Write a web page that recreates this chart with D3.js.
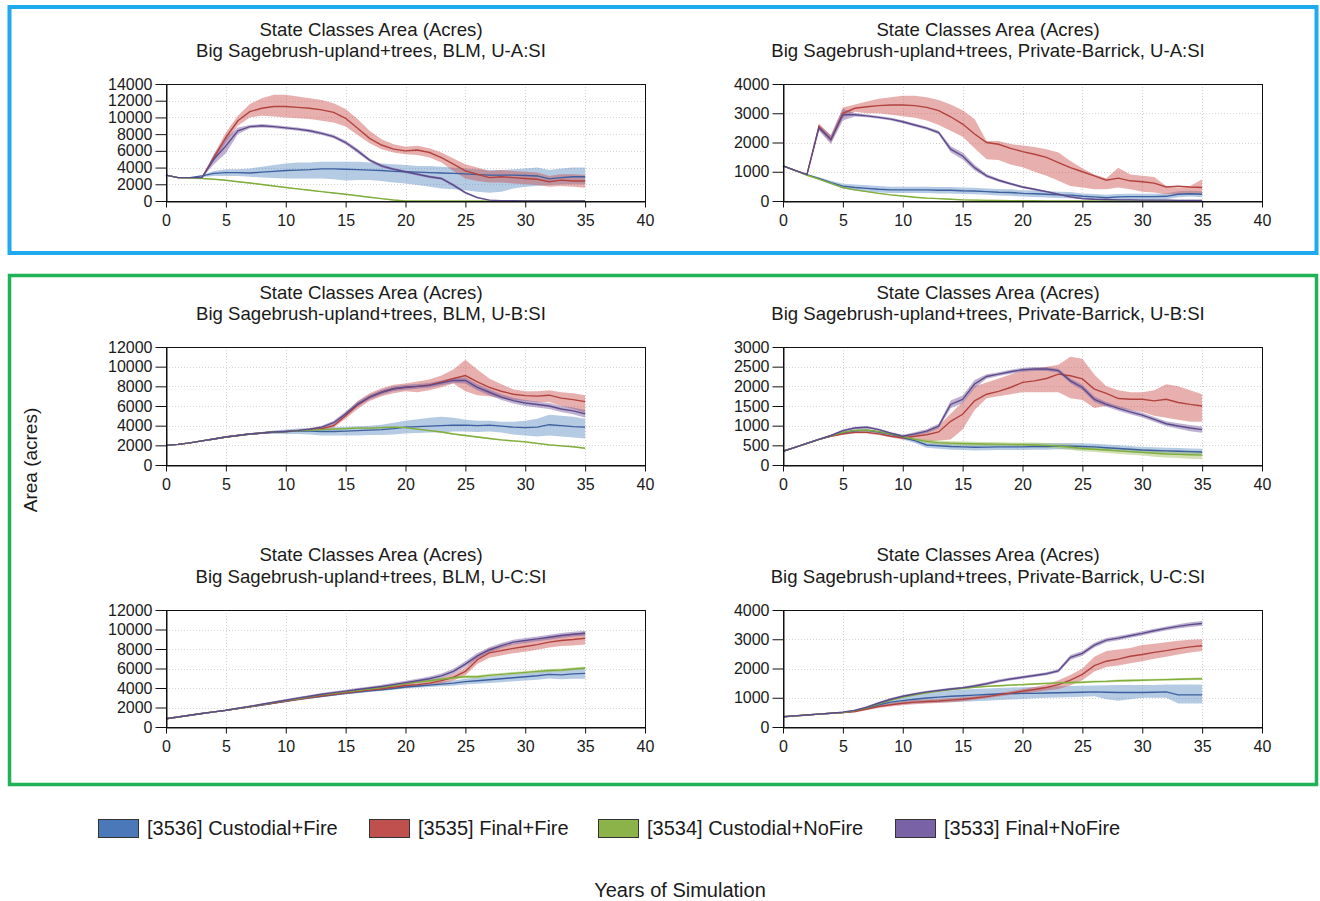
<!DOCTYPE html>
<html>
<head>
<meta charset="utf-8">
<script src="https://cdn.jsdelivr.net/npm/d3@7"></script>
<style>
  html, body { margin: 0; padding: 0; background: #fff; }
  svg { display: block; font-family: "Liberation Sans", Arial, sans-serif; }
</style>
</head>
<body>
<svg id="chart" width="1320" height="901"></svg>
<script>
// ---------------- DATA ----------------
const years = [0,1,2,3,4,5,6,7,8,9,10,11,12,13,14,15,16,17,18,19,20,21,22,23,24,25,26,27,28,29,30,31,32,33,34,35];
const xTicks = [0,5,10,15,20,25,30,35,40];
const seriesNames = ["[3536] Custodial+Fire","[3535] Final+Fire","[3534] Custodial+NoFire","[3533] Final+NoFire"];
const titleLine1 = "State Classes Area (Acres)";
const panelTitles = [
  "Big Sagebrush-upland+trees, BLM, U-A:SI",
  "Big Sagebrush-upland+trees, Private-Barrick, U-A:SI",
  "Big Sagebrush-upland+trees, BLM, U-B:SI",
  "Big Sagebrush-upland+trees, Private-Barrick, U-B:SI",
  "Big Sagebrush-upland+trees, BLM, U-C:SI",
  "Big Sagebrush-upland+trees, Private-Barrick, U-C:SI"
];
const yTicksA_BLM = [0,2000,4000,6000,8000,10000,12000,14000];
const yTicksA_PB  = [0,1000,2000,3000,4000];
const yTicksB_BLM = [0,2000,4000,6000,8000,10000,12000];
const yTicksB_PB  = [0,500,1000,1500,2000,2500,3000];
const yTicksC_BLM = [0,2000,4000,6000,8000,10000,12000];
const yTicksC_PB  = [0,1000,2000,3000,4000];
const xLabel = "Years of Simulation";
const yLabel = "Area (acres)";

// Panel A - BLM
const aBlmCF    = [3100,2800,2800,3000,3300,3400,3400,3350,3450,3550,3650,3700,3750,3850,3850,3800,3750,3700,3650,3550,3500,3450,3400,3350,3300,3250,3150,3100,3100,3100,3050,3000,2650,2800,2900,2900];
const aBlmCF_lo = [3100,2800,2800,2850,3000,3000,3000,2900,2800,2750,2700,2700,2700,2700,2600,2450,2500,2500,2400,2200,2100,1900,1700,1500,1400,1300,1100,1000,1100,1500,1700,1800,1900,2000,2000,2000];
const aBlmCF_hi = [3100,2800,2800,3100,3600,3800,3800,3900,4100,4300,4500,4600,4600,4700,4700,4700,4700,4600,4500,4400,4300,4200,4200,4100,4000,3900,3800,3700,3700,3800,3900,4000,3700,3900,4000,4000];
const aBlmFF    = [3100,2800,2800,2800,5200,7600,9600,10700,11100,11300,11300,11200,11100,10900,10600,9900,8700,7500,6700,6200,6000,6100,5800,5200,4400,3600,3200,2800,2900,2800,2700,2600,2300,2500,2400,2400];
const aBlmFF_lo = [3100,2800,2800,2800,4800,7000,9000,10000,10200,10100,10000,9900,9800,9600,9400,8900,7900,6900,6200,5800,5600,5500,5200,4600,3600,2700,2400,2200,2200,2100,2000,1900,1700,1800,1700,1600];
const aBlmFF_hi = [3100,2800,2800,2800,5600,8200,10200,11600,12300,12700,12700,12500,12300,12100,11700,11000,9800,8400,7400,6800,6500,6600,6300,5800,5100,4400,4000,3600,3700,3600,3500,3400,3000,3200,3200,3100];
const aBlmCN    = [3100,2800,2750,2700,2600,2480,2300,2150,1980,1800,1620,1450,1280,1120,960,800,620,450,280,120,0,0,0,0,0,0,0,0,0,0,0,0,0,0,0,0];
const aBlmCN_hw = [0,0,30,50,60,60,60,60,60,60,60,60,60,60,60,60,60,60,60,50,0,0,0,0,0,0,0,0,0,0,0,0,0,0,0,0];
const aBlmFN    = [3100,2800,2800,2800,5000,6600,8400,8900,9000,8900,8750,8600,8400,8100,7700,7000,6000,4900,4200,3800,3500,3200,2900,2700,1900,1000,400,100,50,30,20,20,10,10,10,10];
const aBlmFN_hw = [0,0,0,50,600,900,400,200,200,200,200,200,200,200,200,250,250,200,200,150,150,150,150,150,150,150,100,50,30,20,20,20,10,10,10,10];

// Panel A - Private-Barrick
const aPbCF    = [1200,1050,900,770,630,510,460,430,400,380,380,380,380,370,370,350,340,320,300,290,260,250,230,210,200,160,140,110,140,150,150,150,160,230,250,230];
const aPbCF_hw = [0,0,0,40,60,80,100,110,110,110,110,110,110,110,110,110,110,110,110,110,110,110,110,110,110,100,100,100,100,100,100,100,100,100,100,100];
const aPbFF    = [1200,1050,900,2550,2100,3000,3170,3220,3260,3280,3280,3260,3200,3090,2880,2630,2290,2000,1940,1800,1690,1600,1490,1310,1140,1000,860,710,780,690,660,610,480,510,480,460];
const aPbFF_lo = [1200,1050,900,2450,2000,2850,3050,3000,3000,2950,2900,2850,2750,2600,2400,2200,1800,1430,1400,1250,1150,1000,860,690,510,460,400,400,460,400,320,290,230,230,250,230];
const aPbFF_hi = [1200,1050,900,2650,2250,3200,3300,3400,3500,3550,3600,3600,3550,3450,3300,3100,2800,2050,2050,1950,1900,1850,1770,1660,1370,1120,910,780,1140,910,860,820,510,460,510,740];
const aPbCN    = [1200,1050,880,750,600,460,380,320,260,210,170,130,100,80,60,40,30,20,15,10,10,10,5,5,5,0,0,0,0,0,0,0,0,0,0,0];
const aPbCN_hw = [0,0,10,20,20,20,20,20,20,20,20,20,20,20,20,20,20,20,15,10,10,10,5,5,5,0,0,0,0,0,0,0,0,0,0,0];
const aPbFN    = [1200,1050,900,2500,2100,2950,2950,2910,2860,2800,2710,2600,2490,2340,1770,1540,1140,860,710,590,480,400,320,230,140,80,60,50,40,40,30,30,30,20,20,20];
const aPbFN_hw = [0,0,0,100,150,200,60,50,50,50,50,50,50,60,100,120,100,60,50,40,40,40,30,30,30,20,20,20,20,20,20,20,20,20,20,20];

// Panel B - BLM
const bBlmCF    = [2000,2100,2250,2450,2650,2850,3000,3150,3250,3350,3400,3450,3450,3400,3400,3450,3500,3550,3600,3700,3850,3900,3950,4000,4050,4050,4000,4050,3950,3850,3800,3850,4100,4000,3900,3850];
const bBlmCF_lo = [2000,2100,2250,2450,2650,2850,3000,3100,3150,3150,3150,3150,3100,3000,3000,3000,3000,3050,3050,3100,3200,3250,3300,3300,3400,3400,3350,3400,3300,3100,3000,2900,3000,2900,2800,2700];
const bBlmCF_hi = [2000,2100,2250,2450,2650,2850,3000,3200,3350,3500,3600,3700,3750,3800,3850,3900,3950,4000,4100,4300,4500,4650,4800,4900,4800,4600,4500,4500,4400,4400,4500,4700,5100,5000,4900,4700];
const bBlmFF    = [2000,2100,2250,2450,2650,2850,3000,3150,3250,3350,3400,3500,3600,3700,4000,5000,6100,6900,7400,7750,7900,8000,8150,8450,8800,9100,8450,7900,7500,7200,7050,7000,7100,6800,6650,6450];
const bBlmFF_lo = [2000,2100,2250,2450,2650,2850,3000,3150,3250,3350,3400,3500,3550,3600,3800,4700,5700,6500,7000,7300,7500,7400,7600,7900,8300,7500,7100,7000,6800,6600,6500,6400,6400,6000,5700,5300];
const bBlmFF_hi = [2000,2100,2250,2450,2650,2850,3000,3150,3250,3350,3400,3500,3650,3800,4200,5300,6500,7300,7800,8150,8300,8500,8700,9100,9700,10700,9700,8800,8200,7700,7500,7500,7600,7400,7300,7100];
const bBlmCN    = [2000,2100,2250,2450,2650,2850,3000,3150,3250,3350,3400,3480,3550,3600,3650,3700,3750,3750,3800,3850,3800,3650,3500,3350,3150,3000,2850,2700,2550,2450,2350,2200,2050,1950,1850,1700];
const bBlmCN_hw = [0,30,50,60,70,80,80,80,80,80,80,80,80,80,80,80,80,80,80,80,80,80,80,80,80,80,80,80,80,80,80,80,80,80,80,80];
const bBlmFN    = [2000,2100,2250,2450,2650,2850,3000,3150,3250,3350,3400,3500,3650,3850,4300,5200,6200,6900,7400,7750,7900,8000,8100,8350,8600,8600,7900,7400,6900,6550,6300,6150,6000,5700,5500,5200];
const bBlmFN_hw = [0,30,50,70,80,90,100,100,100,100,100,100,120,150,200,250,250,250,250,250,250,250,250,250,250,300,300,300,300,300,300,300,300,300,350,400];

// Panel B - Private-Barrick
const bPbCF    = [350,450,550,650,740,820,870,880,840,780,700,620,510,490,470,460,450,455,460,460,460,470,470,480,480,470,460,440,420,400,380,370,360,350,340,330];
const bPbCF_hw = [0,10,20,20,20,30,30,30,30,40,50,60,70,80,80,80,80,80,80,80,80,80,80,80,80,80,80,80,80,80,80,80,80,80,80,80];
const bPbFF    = [350,450,550,650,730,790,830,830,790,730,690,730,770,840,1110,1290,1630,1800,1870,1970,2100,2140,2200,2310,2270,2190,1930,1820,1690,1670,1670,1630,1670,1590,1540,1500];
const bPbFF_lo = [350,450,550,650,710,760,800,800,760,700,650,650,600,620,650,900,1400,1700,1750,1800,1850,1850,1850,1850,1700,1650,1450,1500,1450,1400,1350,1250,1200,1150,1100,1100];
const bPbFF_hi = [350,450,550,650,750,820,860,860,820,760,730,800,850,1000,1300,1600,2000,2100,2200,2300,2400,2450,2500,2550,2750,2700,2300,2000,1900,1850,1850,1900,2050,2000,1900,1800];
const bPbCN    = [350,450,550,650,740,830,880,890,850,790,720,650,600,570,555,545,540,535,530,525,520,510,500,480,450,420,400,380,360,340,320,300,280,270,260,250];
const bPbCN_hw = [0,10,20,20,20,20,20,20,20,30,40,40,50,50,50,50,50,50,50,50,50,60,60,60,70,70,70,70,80,80,80,90,90,90,100,100];
const bPbFN    = [350,450,550,650,750,875,940,960,900,810,730,790,860,990,1540,1670,2060,2250,2310,2370,2420,2440,2440,2400,2140,1970,1670,1540,1440,1350,1270,1160,1050,990,940,900];
const bPbFN_hw = [0,10,20,20,20,30,30,30,30,30,40,40,50,60,100,100,100,60,50,50,50,50,50,50,60,70,70,60,60,60,60,60,60,70,80,80];

// Panel C - BLM
const cBlmCF    = [850,1020,1200,1380,1550,1700,1880,2070,2260,2450,2640,2830,3000,3150,3300,3450,3580,3700,3820,3950,4100,4200,4300,4400,4500,4650,4750,4850,4950,5050,5150,5250,5400,5350,5450,5500];
const cBlmCF_hw = [0,20,30,40,50,60,60,70,70,80,80,90,90,100,100,100,110,120,130,140,150,170,200,230,260,300,320,340,350,360,380,400,420,450,500,550];
const cBlmFF    = [850,1020,1200,1380,1550,1700,1890,2080,2270,2460,2650,2840,3020,3200,3350,3500,3650,3790,3930,4080,4250,4350,4500,4750,5100,5700,6900,7600,7830,8070,8250,8450,8700,8870,8970,9100];
const cBlmFF_hw = [0,20,30,40,50,60,70,80,90,100,110,120,130,140,150,150,160,160,170,180,200,220,250,280,320,380,450,500,500,500,520,520,550,550,600,650];
const cBlmCN    = [850,1020,1200,1380,1550,1700,1900,2100,2300,2500,2700,2900,3100,3300,3450,3600,3750,3900,4050,4250,4450,4600,4750,4900,5050,5150,5150,5300,5400,5500,5600,5700,5800,5850,5950,6050];
const cBlmCN_hw = [0,20,30,40,50,60,60,70,70,80,80,80,90,90,100,100,100,100,110,110,120,120,130,130,140,150,150,150,150,150,150,150,150,150,150,150];
const cBlmFN    = [850,1020,1200,1380,1550,1720,1920,2120,2330,2540,2750,2960,3160,3360,3520,3680,3840,4000,4160,4350,4550,4750,4950,5250,5700,6450,7300,7900,8350,8700,8870,9040,9200,9380,9520,9620];
const cBlmFN_hw = [0,20,30,40,50,60,70,80,90,100,110,120,130,140,150,150,160,160,170,180,200,200,220,250,280,300,300,280,260,250,250,250,250,250,250,250];

// Panel C - Private-Barrick
const cPbCF    = [350,380,410,440,470,490,550,640,760,850,900,950,990,1020,1050,1070,1090,1110,1130,1140,1150,1150,1160,1170,1180,1190,1200,1190,1180,1180,1180,1190,1200,1100,1100,1100];
const cPbCF_lo = [350,380,410,440,460,470,520,600,700,760,780,800,820,840,850,860,880,900,920,940,960,980,1000,1010,1020,1030,1050,950,900,950,1000,1000,1000,800,800,800];
const cPbCF_hi = [350,380,410,440,480,510,580,680,820,940,1020,1100,1160,1200,1250,1280,1300,1320,1330,1350,1360,1370,1380,1390,1400,1410,1420,1430,1440,1440,1440,1440,1450,1450,1450,1450];
const cPbFF    = [350,380,410,440,470,490,530,610,700,760,810,850,870,890,920,950,990,1040,1100,1160,1220,1280,1350,1450,1600,1800,2100,2250,2320,2420,2480,2550,2610,2680,2740,2780];
const cPbFF_lo = [350,380,410,440,460,470,500,570,650,700,740,780,800,820,850,880,930,980,1040,1100,1140,1190,1250,1300,1420,1600,1900,2050,2100,2180,2250,2330,2400,2480,2550,2600];
const cPbFF_hi = [350,380,410,440,480,510,560,650,750,820,880,920,940,960,990,1020,1050,1100,1160,1220,1300,1370,1450,1600,1780,2000,2400,2600,2650,2700,2800,2850,2900,2950,2980,3000];
const cPbCN    = [350,380,410,440,470,490,560,660,790,920,1020,1100,1170,1230,1280,1320,1360,1390,1410,1430,1450,1470,1490,1510,1520,1530,1550,1560,1580,1590,1600,1610,1620,1630,1640,1650];
const cPbCN_hw = [0,10,10,10,20,20,20,30,30,30,30,30,30,30,30,30,30,30,30,30,30,30,30,30,40,40,40,40,40,40,40,40,40,40,40,40];
const cPbFN    = [350,380,410,440,470,510,570,680,820,950,1050,1130,1200,1250,1300,1340,1400,1480,1570,1640,1700,1760,1820,1920,2380,2520,2800,2970,3040,3120,3200,3290,3370,3440,3500,3540];
const cPbFN_hw = [0,10,10,10,20,20,30,30,40,40,40,40,40,40,40,40,50,50,50,50,50,50,50,60,80,80,80,70,70,70,70,70,70,70,80,80];

// ---------------- BUILD ----------------
function band(mean, lo, hi, hw) {
  if (hw) return { mean, lo: mean.map((v,i)=>Math.max(0, v - hw[i])), hi: mean.map((v,i)=>v + hw[i]) };
  return { mean, lo, hi };
}
const panels = [
  { title: panelTitles[0], ticks: yTicksA_BLM, series: [band(aBlmCF,aBlmCF_lo,aBlmCF_hi), band(aBlmFF,aBlmFF_lo,aBlmFF_hi), band(aBlmCN,null,null,aBlmCN_hw), band(aBlmFN,null,null,aBlmFN_hw)] },
  { title: panelTitles[1], ticks: yTicksA_PB,  series: [band(aPbCF,null,null,aPbCF_hw), band(aPbFF,aPbFF_lo,aPbFF_hi), band(aPbCN,null,null,aPbCN_hw), band(aPbFN,null,null,aPbFN_hw)] },
  { title: panelTitles[2], ticks: yTicksB_BLM, series: [band(bBlmCF,bBlmCF_lo,bBlmCF_hi), band(bBlmFF,bBlmFF_lo,bBlmFF_hi), band(bBlmCN,null,null,bBlmCN_hw), band(bBlmFN,null,null,bBlmFN_hw)] },
  { title: panelTitles[3], ticks: yTicksB_PB,  series: [band(bPbCF,null,null,bPbCF_hw), band(bPbFF,bPbFF_lo,bPbFF_hi), band(bPbCN,null,null,bPbCN_hw), band(bPbFN,null,null,bPbFN_hw)] },
  { title: panelTitles[4], ticks: yTicksC_BLM, series: [band(cBlmCF,null,null,cBlmCF_hw), band(cBlmFF,null,null,cBlmFF_hw), band(cBlmCN,null,null,cBlmCN_hw), band(cBlmFN,null,null,cBlmFN_hw)] },
  { title: panelTitles[5], ticks: yTicksC_PB,  series: [band(cPbCF,cPbCF_lo,cPbCF_hi), band(cPbFF,cPbFF_lo,cPbFF_hi), band(cPbCN,null,null,cPbCN_hw), band(cPbFN,null,null,cPbFN_hw)] }
];

const lineColors = ["#3d5f9f", "#b2423e", "#7fae3a", "#5b4a8c"];
const bandColors = ["#4f81bd", "#c9504d", "#9bbb59", "#8064a2"];
const bandOpacity = [0.42, 0.45, 0.45, 0.5];
const swatchColors = ["#4a78b8", "#c0504d", "#8cb24a", "#7a62a6"];
const textColor = "#1a1a1a";

const svg = d3.select("#chart");
svg.append("rect").attr("width", 1320).attr("height", 901).attr("fill", "#fff");

// frames
svg.append("rect").attr("x", 9.5).attr("y", 7).attr("width", 1307).attr("height", 246)
  .attr("fill", "none").attr("stroke", "#1fa9ee").attr("stroke-width", 4);
svg.append("rect").attr("x", 9.5).attr("y", 275.5).attr("width", 1307).attr("height", 509)
  .attr("fill", "none").attr("stroke", "#1fb257").attr("stroke-width", 3.5);

const colX = [166, 783];
const plotW = 479;
const rowTop = [84, 347, 610];
const plotH = [117, 118, 117];
const titleCx = [371, 988];
const titleBase = [[36, 57], [299, 320], [561, 583]];

panels.forEach((p, idx) => {
  const c = idx % 2, r = Math.floor(idx / 2);
  const x0 = colX[c], top = rowTop[r], bottom = top + plotH[r];
  const x = d3.scaleLinear().domain([0, 40]).range([x0, x0 + plotW]);
  const ymax = p.ticks[p.ticks.length - 1];
  const y = d3.scaleLinear().domain([0, ymax]).range([bottom, top]);
  const g = svg.append("g");

  // titles
  g.append("text").attr("x", titleCx[c]).attr("y", titleBase[r][0]).attr("text-anchor", "middle")
    .attr("font-size", 18.6).attr("fill", textColor).text(titleLine1);
  g.append("text").attr("x", titleCx[c]).attr("y", titleBase[r][1]).attr("text-anchor", "middle")
    .attr("font-size", 18.6).attr("fill", textColor).text(p.title);

  // grid
  const grid = g.append("g").attr("stroke", "#d4d4d4").attr("stroke-dasharray", "1,2").attr("stroke-width", 1);
  p.ticks.slice(1, -1).forEach(t => grid.append("line")
    .attr("x1", x0).attr("x2", x0 + plotW).attr("y1", Math.round(y(t)) + 0.5).attr("y2", Math.round(y(t)) + 0.5));
  xTicks.slice(1, -1).forEach(t => grid.append("line")
    .attr("x1", Math.round(x(t)) + 0.5).attr("x2", Math.round(x(t)) + 0.5).attr("y1", top).attr("y2", bottom));

  // bands
  const area = d3.area().x((d, i) => x(years[i])).y0((d, i) => y(d[0])).y1((d, i) => y(d[1]));
  p.series.forEach((s, si) => {
    const pts = s.lo.map((v, i) => [v, s.hi[i]]);
    g.append("path").attr("d", area(pts)).attr("fill", bandColors[si]).attr("fill-opacity", bandOpacity[si]).attr("stroke", "none");
  });
  // lines
  const line = d3.line().x((d, i) => x(years[i])).y(d => y(d));
  p.series.forEach((s, si) => {
    g.append("path").attr("d", line(s.mean)).attr("fill", "none").attr("stroke", lineColors[si]).attr("stroke-width", 1.4);
  });

  // frame
  g.append("rect").attr("x", x0 + 0.5).attr("y", top + 0.5).attr("width", plotW).attr("height", bottom - top)
    .attr("fill", "none").attr("stroke", "#111").attr("stroke-width", 1);

  // axes
  const yAxis = d3.axisLeft(y).tickValues(p.ticks).tickSize(11).tickPadding(3).tickSizeOuter(0).tickFormat(d3.format("d"));
  const ya = g.append("g").attr("transform", `translate(${x0 + 0.5},0)`).call(yAxis);
  const xAxis = d3.axisBottom(x).tickValues(xTicks).tickSize(6).tickPadding(7).tickSizeOuter(0).tickFormat(d3.format("d"));
  const xa = g.append("g").attr("transform", `translate(0,${bottom + 0.5})`).call(xAxis);
  [ya, xa].forEach(a => {
    a.selectAll("text").attr("font-size", 16).attr("fill", textColor).attr("font-family", "Liberation Sans, Arial, sans-serif");
    a.selectAll("line").attr("stroke", "#111");
    a.select(".domain").attr("stroke", "#111");
  });
});

// legend
const legX = [98, 369, 598, 895];
const leg = svg.append("g");
seriesNames.forEach((n, i) => {
  leg.append("rect").attr("x", legX[i] + 0.5).attr("y", 819.5).attr("width", 40).attr("height", 18)
    .attr("fill", swatchColors[i]).attr("stroke", "#333").attr("stroke-width", 1);
  leg.append("text").attr("x", legX[i] + 49).attr("y", 835).attr("font-size", 20).attr("fill", textColor).text(n);
});

// axis titles
svg.append("text").attr("x", 680).attr("y", 897).attr("text-anchor", "middle").attr("font-size", 20)
  .attr("fill", textColor).text(xLabel);
svg.append("text").attr("transform", "translate(37,460) rotate(-90)").attr("text-anchor", "middle").attr("font-size", 19)
  .attr("fill", textColor).text(yLabel);
</script>
</body>
</html>
